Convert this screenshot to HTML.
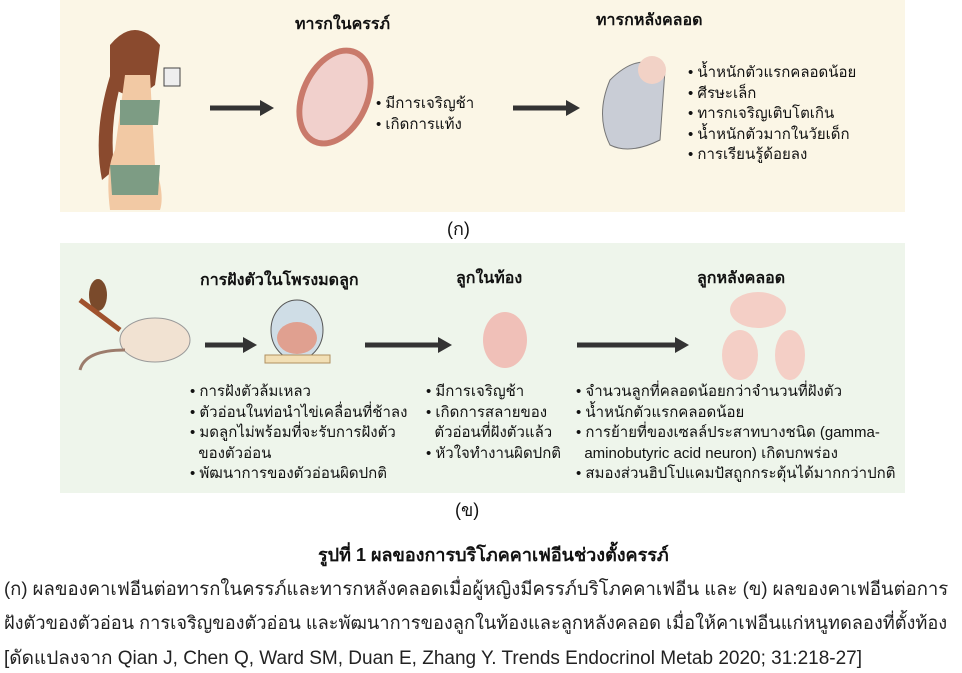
<!DOCTYPE html>
<html><head><meta charset="utf-8"><style>
body{margin:0;width:962px;height:670px;background:#fff;position:relative;overflow:hidden;font-family:"Liberation Sans","Noto Sans CJK SC",sans-serif;color:#111}
.a{position:absolute;white-space:nowrap}
.h{font-weight:bold;font-size:16px}
.b{font-size:15px;line-height:20.5px}
.cap{font-size:18.5px;color:#222}
</style></head><body>
<div class="a" style="left:60px;top:0;width:845px;height:212px;background:#fbf6e6"></div>
<div class="a" style="left:60px;top:243px;width:845px;height:250px;background:#eef5eb"></div>
<svg class="a" style="left:0;top:0" width="962" height="500">
<path d="M110 45 q25 -30 50 0 l-5 40 q-25 20 -45 0z" fill="#8a4a2e"/>
<path d="M112 70 q-20 60 -10 110 l12 -10 q-5 -50 8 -90z" fill="#8a4a2e"/>
<path d="M125 75 l25 0 l5 90 q10 30 5 45 l-50 0 q-5 -40 5 -60z" fill="#f2c9a4"/>
<path d="M120 100 l40 0 l-2 25 l-38 0z" fill="#7d9c84"/>
<path d="M110 165 l50 0 l-2 30 l-46 0z" fill="#7d9c84"/>
<rect x="164" y="68" width="16" height="18" fill="#eee" stroke="#444"/>
<path d="M210 108 h52" stroke="#333" stroke-width="5"/><path d="M260 100 l14 8 l-14 8z" fill="#333"/>
<path d="M513 108 h55" stroke="#333" stroke-width="5"/><path d="M566 100 l14 8 l-14 8z" fill="#333"/>
<ellipse cx="335" cy="97" rx="35" ry="52" transform="rotate(25 335 97)" fill="#c97a6b"/>
<ellipse cx="335" cy="97" rx="29" ry="46" transform="rotate(25 335 97)" fill="#f1d0cc"/>
<path d="M610 80 q30 -30 55 -10 l-5 70 q-30 15 -50 5 q-15 -30 0 -65z" fill="#c9cdd6" stroke="#777"/>
<circle cx="652" cy="70" r="14" fill="#f2d2c6"/>
<path d="M205 345 h40" stroke="#333" stroke-width="5"/><path d="M243 337 l14 8 l-14 8z" fill="#333"/>
<path d="M365 345 h75" stroke="#333" stroke-width="5"/><path d="M438 337 l14 8 l-14 8z" fill="#333"/>
<path d="M577 345 h100" stroke="#333" stroke-width="5"/><path d="M675 337 l14 8 l-14 8z" fill="#333"/>
<ellipse cx="98" cy="295" rx="9" ry="16" fill="#7a4a2b"/>
<path d="M80 300 l40 30" stroke="#a0522d" stroke-width="5"/>
<ellipse cx="155" cy="340" rx="35" ry="22" fill="#f1e2d2" stroke="#999"/>
<path d="M125 350 q-40 0 -45 20" stroke="#9c7c6c" stroke-width="3" fill="none"/>
<ellipse cx="297" cy="330" rx="26" ry="30" fill="#cfdde6" stroke="#555"/>
<rect x="265" y="355" width="65" height="8" fill="#f2dfb5" stroke="#b09060"/>
<ellipse cx="297" cy="338" rx="20" ry="16" fill="#e0a090"/>
<ellipse cx="505" cy="340" rx="22" ry="28" fill="#f0c0b8"/>
<ellipse cx="758" cy="310" rx="28" ry="18" fill="#f4cfc6"/>
<ellipse cx="740" cy="355" rx="18" ry="25" fill="#f4cfc6"/>
<ellipse cx="790" cy="355" rx="15" ry="25" fill="#f4cfc6"/>
</svg>
<div class="a h" style="left:295px;top:12px">ทารกในครรภ์</div>
<div class="a h" style="left:596px;top:8px">ทารกหลังคลอด</div>
<div class="a b" style="left:376px;top:94px">• มีการเจริญช้า<br>• เกิดการแท้ง</div>
<div class="a b" style="left:688px;top:63px">• น้ำหนักตัวแรกคลอดน้อย<br>• ศีรษะเล็ก<br>• ทารกเจริญเติบโตเกิน<br>• น้ำหนักตัวมากในวัยเด็ก<br>• การเรียนรู้ด้อยลง</div>
<div class="a" style="left:447px;top:214px;font-size:18px">(ก)</div>
<div class="a h" style="left:200px;top:268px">การฝังตัวในโพรงมดลูก</div>
<div class="a h" style="left:456px;top:266px">ลูกในท้อง</div>
<div class="a h" style="left:697px;top:266px">ลูกหลังคลอด</div>
<div class="a b" style="left:190px;top:382px">• การฝังตัวล้มเหลว<br>• ตัวอ่อนในท่อนำไข่เคลื่อนที่ช้าลง<br>• มดลูกไม่พร้อมที่จะรับการฝังตัว<br>&nbsp;&nbsp;ของตัวอ่อน<br>• พัฒนาการของตัวอ่อนผิดปกติ</div>
<div class="a b" style="left:426px;top:382px">• มีการเจริญช้า<br>• เกิดการสลายของ<br>&nbsp;&nbsp;ตัวอ่อนที่ฝังตัวแล้ว<br>• หัวใจทำงานผิดปกติ</div>
<div class="a b" style="left:576px;top:382px">• จำนวนลูกที่คลอดน้อยกว่าจำนวนที่ฝังตัว<br>• น้ำหนักตัวแรกคลอดน้อย<br>• การย้ายที่ของเซลล์ประสาทบางชนิด (gamma-<br>&nbsp;&nbsp;aminobutyric acid neuron) เกิดบกพร่อง<br>• สมองส่วนฮิปโปแคมปัสถูกกระตุ้นได้มากกว่าปกติ</div>
<div class="a" style="left:455px;top:495px;font-size:18px">(ข)</div>
<div class="a" style="left:318px;top:540px;font-size:18px;font-weight:bold">รูปที่ 1 ผลของการบริโภคคาเฟอีนช่วงตั้งครรภ์</div>
<div class="a cap" style="left:4px;top:575px">(ก) ผลของคาเฟอีนต่อทารกในครรภ์และทารกหลังคลอดเมื่อผู้หญิงมีครรภ์บริโภคคาเฟอีน และ (ข) ผลของคาเฟอีนต่อการ</div>
<div class="a cap" style="left:4px;top:609px;font-size:18.2px">ฝังตัวของตัวอ่อน การเจริญของตัวอ่อน และพัฒนาการของลูกในท้องและลูกหลังคลอด เมื่อให้คาเฟอีนแก่หนูทดลองที่ตั้งท้อง</div>
<div class="a cap" style="left:4px;top:643px;font-size:19px">[ดัดแปลงจาก Qian J, Chen Q, Ward SM, Duan E, Zhang Y. Trends Endocrinol Metab 2020; 31:218-27]</div>
</body></html>
